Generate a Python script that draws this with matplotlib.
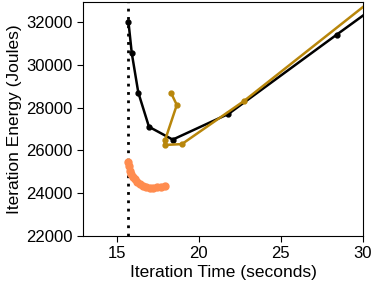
import matplotlib
matplotlib.use("Agg")
import matplotlib.pyplot as plt

plt.rcParams["font.family"] = ["Liberation Sans", "DejaVu Sans"]

# black series
black_x = [15.7, 15.9, 16.3, 16.95, 18.4, 21.8, 28.4, 32.0]
black_y = [32000, 30550, 28700, 27100, 26500, 27700, 31400, 33400]

# gold series
gold_x = [18.3, 18.65, 17.94, 17.9, 18.96, 22.76, 32.0]
gold_y = [28680, 28120, 26490, 26250, 26290, 28310, 33900]

# orange series
orange_x = [15.68, 15.72, 15.8, 15.88, 15.97, 16.1, 16.25, 16.4, 16.6, 16.8, 17.0, 17.2, 17.45, 17.7, 17.95]
orange_y = [25450, 25250, 25050, 24880, 24760, 24640, 24540, 24440, 24340, 24270, 24240, 24240, 24270, 24300, 24340]

min_time = 15.67

fig = plt.figure(figsize=(3.74, 2.87), dpi=100)
ax = fig.add_axes([0.223, 0.178, 0.747, 0.815])

ax.plot(black_x, black_y, color="black", lw=1.8, marker="o", ms=3.5, zorder=3)
ax.plot(gold_x, gold_y, color="#b8860b", lw=1.8, marker="o", ms=3.5, zorder=4)
ax.plot(orange_x, orange_y, color="#ff8c4f", lw=3.5, marker="o", ms=5, zorder=4)
ax.axvline(min_time, color="black", ls=(0, (1, 2)), lw=2, zorder=2)

ax.set_xlim(12.95, 30)
ax.set_ylim(22000, 32930)
ax.set_xticks([15, 20, 25, 30])
ax.set_yticks([22000, 24000, 26000, 28000, 30000, 32000])
ax.tick_params(labelsize=12, length=4)
ax.set_xlabel("Iteration Time (seconds)", fontsize=12.5, labelpad=3)
ax.set_ylabel("Iteration Energy (Joules)", fontsize=12.5, labelpad=3)

plt.savefig("out.png", dpi=100)
plt.close()
